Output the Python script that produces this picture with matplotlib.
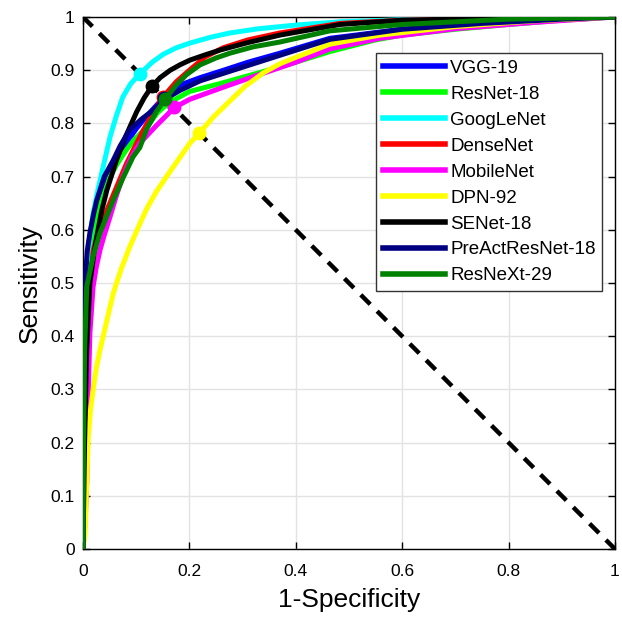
import matplotlib
matplotlib.use("Agg")
import matplotlib.pyplot as plt

plt.rcParams['font.family'] = ['Liberation Sans', 'DejaVu Sans']

# model names and colours (legend order)
models = ['VGG-19', 'ResNet-18', 'GoogLeNet', 'DenseNet', 'MobileNet',
          'DPN-92', 'SENet-18', 'PreActResNet-18', 'ResNeXt-29']
colors = ['#0000ff', '#00ff00', '#00ffff', '#ff0000', '#ff00ff',
          '#ffff00', '#000000', '#000080', '#008000']

# ROC curves: (1-specificity, sensitivity)
vgg_fpr = [0, 0.002, 0.005, 0.012, 0.02, 0.026, 0.035, 0.045, 0.057, 0.07, 0.085, 0.1, 0.115, 0.13, 0.15, 0.165, 0.182, 0.22, 0.258, 0.31, 0.37, 0.464, 0.6, 0.75, 0.9, 1.0]
vgg_tpr = [0, 0.3, 0.46, 0.58, 0.63, 0.65, 0.675, 0.70, 0.722, 0.745, 0.768, 0.79, 0.808, 0.825, 0.847, 0.86, 0.872, 0.886, 0.898, 0.915, 0.932, 0.960, 0.977, 0.988, 0.996, 1.0]

resnet_fpr = [0, 0.002, 0.006, 0.015, 0.03, 0.051, 0.065, 0.08, 0.095, 0.107, 0.125, 0.14, 0.16, 0.2, 0.258, 0.33, 0.4, 0.464, 0.55, 0.6, 0.7, 0.8, 0.9, 1.0]
resnet_tpr = [0, 0.25, 0.42, 0.55, 0.64, 0.70, 0.725, 0.748, 0.768, 0.78, 0.80, 0.82, 0.838, 0.86, 0.875, 0.895, 0.915, 0.935, 0.957, 0.966, 0.977, 0.986, 0.994, 1.0]

googlenet_fpr = [0, 0.002, 0.006, 0.012, 0.019, 0.026, 0.036, 0.051, 0.063, 0.075, 0.09, 0.107, 0.13, 0.151, 0.175, 0.201, 0.24, 0.276, 0.33, 0.402, 0.483, 0.6, 0.8, 1.0]
googlenet_tpr = [0, 0.3, 0.48, 0.58, 0.63, 0.665, 0.71, 0.775, 0.815, 0.85, 0.875, 0.893, 0.915, 0.930, 0.942, 0.951, 0.962, 0.970, 0.978, 0.985, 0.991, 0.995, 0.998, 1.0]

densenet_fpr = [0, 0.003, 0.008, 0.019, 0.03, 0.045, 0.063, 0.082, 0.107, 0.13, 0.15, 0.175, 0.2, 0.23, 0.263, 0.31, 0.37, 0.483, 0.6, 0.8, 1.0]
densenet_tpr = [0, 0.2, 0.4, 0.56, 0.60, 0.637, 0.68, 0.725, 0.775, 0.818, 0.849, 0.878, 0.9, 0.925, 0.942, 0.957, 0.970, 0.988, 0.994, 0.998, 1.0]

mobilenet_fpr = [0, 0.004, 0.007, 0.01, 0.013, 0.019, 0.025, 0.032, 0.04, 0.051, 0.063, 0.075, 0.09, 0.107, 0.138, 0.172, 0.2, 0.258, 0.326, 0.4, 0.464, 0.558, 0.7, 0.85, 1.0]
mobilenet_tpr = [0, 0.05, 0.124, 0.3, 0.406, 0.493, 0.53, 0.562, 0.59, 0.625, 0.665, 0.70, 0.735, 0.763, 0.796, 0.830, 0.845, 0.866, 0.89, 0.915, 0.94, 0.96, 0.978, 0.99, 1.0]

dpn_fpr = [0, 0.004, 0.007, 0.010, 0.014, 0.019, 0.025, 0.032, 0.045, 0.057, 0.072, 0.088, 0.104, 0.120, 0.138, 0.157, 0.18, 0.201, 0.219, 0.245, 0.276, 0.305, 0.339, 0.37, 0.402, 0.464, 0.558, 0.7, 0.85, 1.0]
dpn_tpr = [0, 0.03, 0.124, 0.211, 0.26, 0.299, 0.34, 0.374, 0.43, 0.481, 0.527, 0.568, 0.605, 0.640, 0.672, 0.700, 0.733, 0.763, 0.782, 0.812, 0.842, 0.870, 0.895, 0.912, 0.925, 0.949, 0.966, 0.982, 0.993, 1.0]

senet_fpr = [0, 0.003, 0.007, 0.013, 0.02, 0.026, 0.035, 0.045, 0.063, 0.08, 0.101, 0.115, 0.129, 0.145, 0.164, 0.182, 0.201, 0.23, 0.258, 0.31, 0.37, 0.483, 0.6, 0.8, 1.0]
senet_tpr = [0, 0.2, 0.374, 0.5, 0.55, 0.587, 0.635, 0.675, 0.731, 0.775, 0.822, 0.848, 0.869, 0.886, 0.900, 0.910, 0.919, 0.929, 0.938, 0.952, 0.966, 0.986, 0.994, 0.998, 1.0]

preact_fpr = [0, 0.002, 0.004, 0.008, 0.013, 0.02, 0.026, 0.04, 0.057, 0.07, 0.088, 0.11, 0.132, 0.153, 0.182, 0.22, 0.276, 0.37, 0.464, 0.6, 0.75, 0.9, 1.0]
preact_tpr = [0, 0.35, 0.5, 0.56, 0.594, 0.63, 0.656, 0.70, 0.731, 0.758, 0.788, 0.808, 0.825, 0.845, 0.862, 0.880, 0.898, 0.928, 0.958, 0.977, 0.988, 0.996, 1.0]

resnext_fpr = [0, 0.001, 0.003, 0.007, 0.019, 0.032, 0.057, 0.075, 0.094, 0.107, 0.120, 0.138, 0.155, 0.175, 0.195, 0.22, 0.25, 0.276, 0.32, 0.370, 0.464, 0.6, 0.8, 1.0]
resnext_tpr = [0, 0.2, 0.37, 0.493, 0.55, 0.594, 0.656, 0.697, 0.737, 0.755, 0.79, 0.822, 0.846, 0.872, 0.892, 0.910, 0.923, 0.932, 0.944, 0.953, 0.974, 0.986, 0.996, 1.0]

# equal error rate points (on the diagonal)
eer_fpr = [0.152, 0.158, 0.107, 0.150, 0.172, 0.219, 0.129, 0.153, 0.155]
eer_tpr = [0.848, 0.842, 0.893, 0.849, 0.830, 0.782, 0.871, 0.847, 0.846]

curves = [(vgg_fpr, vgg_tpr), (resnet_fpr, resnet_tpr), (googlenet_fpr, googlenet_tpr),
          (densenet_fpr, densenet_tpr), (mobilenet_fpr, mobilenet_tpr), (dpn_fpr, dpn_tpr),
          (senet_fpr, senet_tpr), (preact_fpr, preact_tpr), (resnext_fpr, resnext_tpr)]

xticks = [0, 0.2, 0.4, 0.6, 0.8, 1]
xtick_labels = ['0', '0.2', '0.4', '0.6', '0.8', '1']
yticks = [0, 0.1, 0.2, 0.3, 0.4, 0.5, 0.6, 0.7, 0.8, 0.9, 1]
ytick_labels = ['0', '0.1', '0.2', '0.3', '0.4', '0.5', '0.6', '0.7', '0.8', '0.9', '1']

fig = plt.figure(figsize=(6.22, 6.17), dpi=100)
ax = fig.add_axes([0.1334, 0.1102, 0.8553, 0.8622])

# chance line
ax.plot([0, 1], [1, 0], color='black', linestyle=(0, (3, 2.2)), linewidth=3.2, zorder=2)

for i, (fpr, tpr) in enumerate(curves):
    ax.plot(fpr, tpr, color=colors[i], linewidth=3.6, label=models[i],
            solid_joinstyle='round', zorder=3 + i)
    ax.plot(eer_fpr[i], eer_tpr[i], 'o', color=colors[i], markersize=9, zorder=3 + i)

ax.set_xlim(0, 1)
ax.set_ylim(0, 1)
ax.set_xticks(xticks)
ax.set_xticklabels(xtick_labels)
ax.set_yticks(yticks)
ax.set_yticklabels(ytick_labels)
ax.tick_params(direction='in', length=5, width=1, labelsize=12.5,
               top=True, right=True, colors='black')
ax.tick_params(axis='x', pad=11)
ax.tick_params(axis='y', pad=6)
ax.grid(True, color='#e3e3e3', linewidth=1)
ax.set_axisbelow(True)
for s in ax.spines.values():
    s.set_linewidth(1)

ax.set_xlabel('1-Specificity', fontsize=19, labelpad=6)
ax.set_ylabel('Sensitivity', fontsize=19, labelpad=6)

leg = ax.legend(loc='upper right', bbox_to_anchor=(0.976, 0.932), fontsize=13.5,
                handlelength=3.3, handletextpad=0.3, labelspacing=0.47,
                borderpad=0.35, borderaxespad=0, fancybox=False, framealpha=1)
leg.get_frame().set_edgecolor('#333333')
leg.get_frame().set_linewidth(1)
for line in leg.get_lines():
    line.set_linewidth(4)

fig.savefig('out.png', dpi=100)
